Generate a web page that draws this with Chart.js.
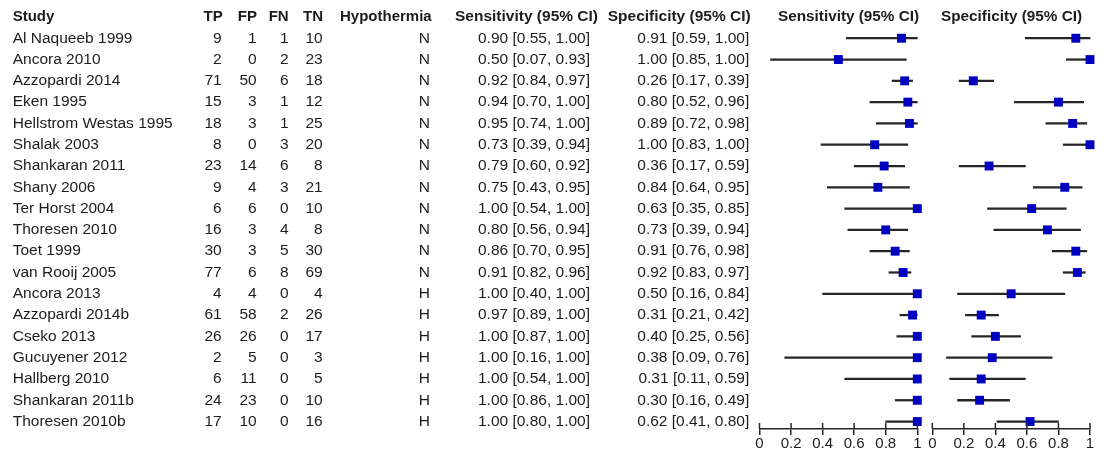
<!DOCTYPE html>
<html>
<head>
<meta charset="utf-8">
<script src="https://cdn.jsdelivr.net/npm/chart.js@4"></script>
<style>
html,body{margin:0;padding:0;background:#fff;overflow:hidden}
#wrap{position:relative;width:1107px;height:453px;background:#fff}
#wrap canvas{position:absolute;left:0;top:0}
</style>
</head>
<body>
<div id="wrap">
<canvas id="c1" width="1107" height="453"></canvas>
<canvas id="c2" width="1107" height="453"></canvas>
</div>
<script>
// ---- data ----
const studies = ['Al Naqueeb 1999','Ancora 2010','Azzopardi 2014','Eken 1995','Hellstrom Westas 1995','Shalak 2003','Shankaran 2011','Shany 2006','Ter Horst 2004','Thoresen 2010','Toet 1999','van Rooij 2005','Ancora 2013','Azzopardi 2014b','Cseko 2013','Gucuyener 2012','Hallberg 2010','Shankaran 2011b','Thoresen 2010b'];
const tp = [9,2,71,15,18,8,23,9,6,16,30,77,4,61,26,2,6,24,17];
const fp = [1,0,50,3,3,0,14,4,6,3,3,6,4,58,26,5,11,23,10];
const fn = [1,2,6,1,1,3,6,3,0,4,5,8,0,2,0,0,0,0,0];
const tn = [10,23,18,12,25,20,8,21,10,8,30,69,4,26,17,3,5,10,16];
const hypothermia = ['N','N','N','N','N','N','N','N','N','N','N','N','H','H','H','H','H','H','H'];
const sens   = [0.90,0.50,0.92,0.94,0.95,0.73,0.79,0.75,1.00,0.80,0.86,0.91,1.00,0.97,1.00,1.00,1.00,1.00,1.00];
const sensLo = [0.55,0.07,0.84,0.70,0.74,0.39,0.60,0.43,0.54,0.56,0.70,0.82,0.40,0.89,0.87,0.16,0.54,0.86,0.80];
const sensHi = [1.00,0.93,0.97,1.00,1.00,0.94,0.92,0.95,1.00,0.94,0.95,0.96,1.00,1.00,1.00,1.00,1.00,1.00,1.00];
const spec   = [0.91,1.00,0.26,0.80,0.89,1.00,0.36,0.84,0.63,0.73,0.91,0.92,0.50,0.31,0.40,0.38,0.31,0.30,0.62];
const specLo = [0.59,0.85,0.17,0.52,0.72,0.83,0.17,0.64,0.35,0.39,0.76,0.83,0.16,0.21,0.25,0.09,0.11,0.16,0.41];
const specHi = [1.00,1.00,0.39,0.96,0.98,1.00,0.59,0.95,0.85,0.94,0.98,0.97,0.84,0.42,0.56,0.76,0.59,0.49,0.80];
const tickValues = [0,0.2,0.4,0.6,0.8,1];
const tickLabels = ['0','0.2','0.4','0.6','0.8','1'];
const headers = ['Study','TP','FP','FN','TN','Hypothermia','Sensitivity (95% CI)','Specificity (95% CI)'];
const plotHeaders = ['Sensitivity (95% CI)','Specificity (95% CI)'];

// ---- layout / style ----
const FONT = '"Liberation Sans", Arial, Helvetica, sans-serif';
const TEXT = '#1c1c1c';
const LINE = '#262626';
const BLUE = '#0000c0';
const headX = [12.7, 222.7, 257, 288.7, 323, 431.7, 598, 750.7];
const bodyX = [12.7, 221.7, 256.7, 288.7, 322.7, 430, 590, 749.3];
const fmt = v => v.toFixed(2);
const ci = (e,l,h) => fmt(e) + ' [' + fmt(l) + ', ' + fmt(h) + ']';

const tablePlugin = {
  id: 'table',
  afterDraw(chart) {
    const ctx = chart.ctx, y = chart.scales.y;
    ctx.save();
    ctx.fillStyle = TEXT;
    ctx.textBaseline = 'middle';
    const hy = y.getPixelForValue(-1);
    headers.forEach((h, k) => {
      ctx.font = 'bold ' + (k >= 6 ? 15.5 : 15) + 'px ' + FONT;
      ctx.textAlign = k === 0 ? 'left' : 'right';
      ctx.fillText(h, headX[k], hy);
    });
    ctx.font = '15.5px ' + FONT;
    studies.forEach((s, i) => {
      const py = y.getPixelForValue(i);
      const cells = [s, tp[i], fp[i], fn[i], tn[i], hypothermia[i],
        ci(sens[i], sensLo[i], sensHi[i]), ci(spec[i], specLo[i], specHi[i])];
      cells.forEach((c, k) => {
        ctx.textAlign = k === 0 ? 'left' : 'right';
        ctx.fillText(String(c), bodyX[k], py);
      });
    });
    ctx.restore();
  }
};

const axisPlugin = {
  id: 'axisUp',
  afterDraw(chart, args, opts) {
    const s = chart.scales.x, ctx = chart.ctx, b = chart.chartArea.bottom;
    ctx.save();
    ctx.strokeStyle = LINE;
    ctx.lineWidth = 1.5;
    s.ticks.forEach(t => {
      const px = s.getPixelForValue(t.value);
      ctx.beginPath(); ctx.moveTo(px, b - 6); ctx.lineTo(px, b); ctx.stroke();
    });
    ctx.fillStyle = TEXT;
    ctx.font = 'bold 15.3px ' + FONT;
    ctx.textBaseline = 'middle';
    ctx.textAlign = 'left';
    ctx.fillText(opts.title, opts.titleX, chart.scales.y.getPixelForValue(-1));
    ctx.restore();
  }
};

function forest(id, est, lo, hi, padL, padR, title, titleX, extra) {
  return new Chart(document.getElementById(id), {
    type: 'bar',
    data: {
      datasets: [
        {
          type: 'scatter',
          data: est.map((v, i) => ({x: v, y: i})),
          pointStyle: 'rect',
          pointRadius: 6.3,
          backgroundColor: BLUE,
          borderColor: BLUE,
          borderWidth: 0,
          clip: false
        },
        {
          type: 'bar',
          data: lo.map((v, i) => ({y: i, x: [v, hi[i]]})),
          backgroundColor: LINE,
          borderWidth: 0,
          barThickness: 1.6,
          grouped: false,
          clip: false
        }
      ]
    },
    options: {
      indexAxis: 'y',
      responsive: false,
      devicePixelRatio: 1,
      animation: false,
      events: [],
      layout: {padding: {left: padL, right: padR, top: 4, bottom: 0}},
      plugins: {legend: {display: false}, tooltip: {enabled: false}, axisUp: {title: title, titleX: titleX}},
      scales: {
        x: {
          type: 'linear', min: 0, max: 1, offset: false,
          afterBuildTicks: s => { s.ticks = tickValues.map(v => ({value: v})); },
          ticks: {
            callback: (v, i) => tickLabels[i],
            font: {family: FONT, size: 15}, color: TEXT, padding: 0,
            autoSkip: false, maxRotation: 0
          },
          grid: {drawOnChartArea: false, drawTicks: true, tickLength: 6, color: LINE, lineWidth: 1.5},
          border: {display: true, color: LINE, width: 1.5}
        },
        y: {type: 'linear', reverse: true, min: -1.5, max: 18.35, offset: false, display: false}
      }
    },
    plugins: [axisPlugin].concat(extra)
  });
}

forest('c1', sens, sensLo, sensHi, 759.5, 1107 - 917.3, plotHeaders[0], 778, [tablePlugin]);
forest('c2', spec, specLo, specHi, 932.3, 1107 - 1090, plotHeaders[1], 941, []);
</script>
</body>
</html>
